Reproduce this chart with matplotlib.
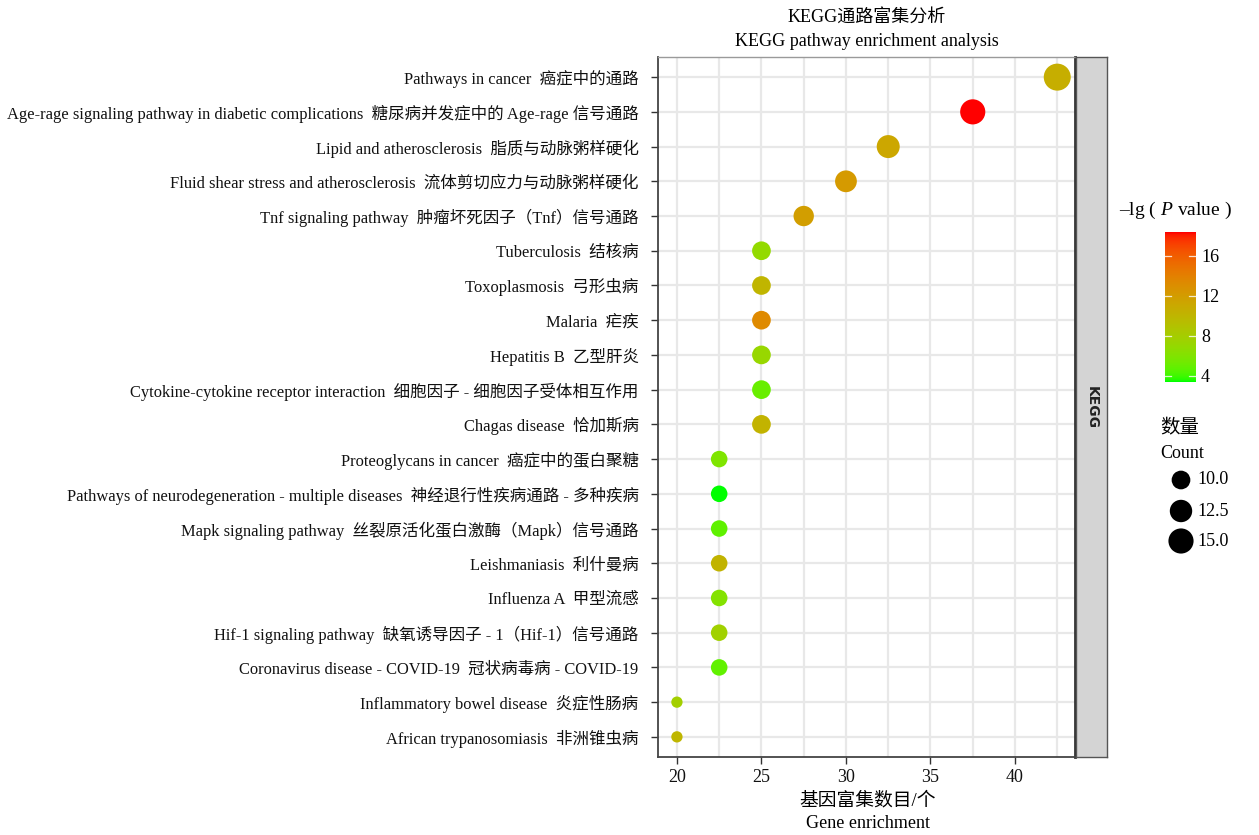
import numpy as np
import matplotlib
matplotlib.use("Agg")
import matplotlib.pyplot as plt
from matplotlib.colors import ListedColormap, Normalize

plt.rcParams['font.family'] = ['Liberation Serif', 'Noto Sans CJK SC']
plt.rcParams['mathtext.fontset'] = 'custom'
plt.rcParams['mathtext.rm'] = 'Liberation Serif'
plt.rcParams['mathtext.it'] = 'Liberation Serif:italic'

# ---- data -----------------------------------------------------------------
pathways = [
    "Pathways in cancer  癌症中的通路",
    "Age-rage signaling pathway in diabetic complications  糖尿病并发症中的 Age-rage 信号通路",
    "Lipid and atherosclerosis  脂质与动脉粥样硬化",
    "Fluid shear stress and atherosclerosis  流体剪切应力与动脉粥样硬化",
    "Tnf signaling pathway  肿瘤坏死因子（Tnf）信号通路",
    "Tuberculosis  结核病",
    "Toxoplasmosis  弓形虫病",
    "Malaria  疟疾",
    "Hepatitis B  乙型肝炎",
    "Cytokine-cytokine receptor interaction  细胞因子 - 细胞因子受体相互作用",
    "Chagas disease  恰加斯病",
    "Proteoglycans in cancer  癌症中的蛋白聚糖",
    "Pathways of neurodegeneration - multiple diseases  神经退行性疾病通路 - 多种疾病",
    "Mapk signaling pathway  丝裂原活化蛋白激酶（Mapk）信号通路",
    "Leishmaniasis  利什曼病",
    "Influenza A  甲型流感",
    "Hif-1 signaling pathway  缺氧诱导因子 - 1（Hif-1）信号通路",
    "Coronavirus disease - COVID-19  冠状病毒病 - COVID-19",
    "Inflammatory bowel disease  炎症性肠病",
    "African trypanosomiasis  非洲锥虫病",
]
gene_enrichment = [42.5, 37.5, 32.5, 30.0, 27.5,
                   25.0, 25.0, 25.0, 25.0, 25.0, 25.0,
                   22.5, 22.5, 22.5, 22.5, 22.5, 22.5, 22.5,
                   20.0, 20.0]
counts = [17, 15, 13, 12, 11,
          10, 10, 10, 10, 10, 10,
          9, 9, 9, 9, 9, 9, 9,
          8, 8]
neg_log_p = [10.7, 18.4, 11.2, 12.2, 11.9,
             6.9, 10.1, 13.4, 7.2, 5.0, 10.3,
             5.9, 3.4, 4.7, 10.2, 6.1, 7.7, 4.8,
             7.9, 10.0]
x_ticks = [20, 25, 30, 35, 40]
color_ticks = [4, 8, 12, 16]
size_breaks = [10.0, 12.5, 15.0]


# ---- green -> red gradient interpolated in CIE Lab -------------------------
def _srgb_to_lab(rgb):
    rgb = np.asarray(rgb, float)
    lin = np.where(rgb <= 0.04045, rgb / 12.92, ((rgb + 0.055) / 1.055) ** 2.4)
    m = np.array([[0.4124564, 0.3575761, 0.1804375],
                  [0.2126729, 0.7151522, 0.0721750],
                  [0.0193339, 0.1191920, 0.9503041]])
    xyz = lin @ m.T / np.array([0.95047, 1.0, 1.08883])
    f = np.where(xyz > 0.008856, np.cbrt(xyz), 7.787 * xyz + 16 / 116)
    L = 116 * f[..., 1] - 16
    a = 500 * (f[..., 0] - f[..., 1])
    b = 200 * (f[..., 1] - f[..., 2])
    return np.stack([L, a, b], -1)


def _lab_to_srgb(lab):
    lab = np.asarray(lab, float)
    fy_ = (lab[..., 0] + 16) / 116
    fx_ = fy_ + lab[..., 1] / 500
    fz_ = fy_ - lab[..., 2] / 200
    f = np.stack([fx_, fy_, fz_], -1)
    xyz = np.where(f ** 3 > 0.008856, f ** 3, (f - 16 / 116) / 7.787)
    xyz = xyz * np.array([0.95047, 1.0, 1.08883])
    minv = np.array([[3.2404542, -1.5371385, -0.4985314],
                     [-0.9692660, 1.8760108, 0.0415560],
                     [0.0556434, -0.2040259, 1.0572252]])
    lin = np.clip(xyz @ minv.T, 0, 1)
    rgb = np.where(lin <= 0.0031308, 12.92 * lin, 1.055 * lin ** (1 / 2.4) - 0.055)
    return np.clip(rgb, 0, 1)


lab_lo = _srgb_to_lab([0.0, 1.0, 0.0])
lab_hi = _srgb_to_lab([1.0, 0.0, 0.0])
t = np.linspace(0, 1, 256)[:, None]
cmap = ListedColormap(_lab_to_srgb(lab_lo * (1 - t) + lab_hi * t))
norm = Normalize(vmin=min(neg_log_p), vmax=max(neg_log_p))

# point diameter (px) follows an area-style scale over the count range
c_min, c_max = min(counts), max(counts)


def marker_area(c):
    d_px = 11.3 + 15.7 * np.sqrt((np.asarray(c, float) - c_min) / (c_max - c_min))
    return (d_px * 0.72) ** 2


# ---- figure ---------------------------------------------------------------
W, H = 1259, 835
fig = plt.figure(figsize=(W / 100, H / 100), dpi=100)


def fx(px):
    return px / W


def fy(py):
    return 1 - py / H


p_left, p_right, p_top, p_bot = 658, 1075, 57, 757
ax = fig.add_axes([fx(p_left), fy(p_bot), fx(p_right - p_left), (p_bot - p_top) / H])

n = len(pathways)
ypos = np.arange(n)
ax.set_xlim(18.88, 43.55)
ax.set_ylim(n - 1 + 0.58, -0.58)

# grid
grid_c = '#e8e8e8'
for xv in np.arange(20, 43.6, 2.5):
    ax.axvline(xv, color=grid_c, lw=1.6, zorder=0)
for yv in ypos:
    ax.axhline(yv, color=grid_c, lw=1.6, zorder=0)

ax.scatter(gene_enrichment, ypos, s=marker_area(counts), c=neg_log_p,
           cmap=cmap, norm=norm, edgecolors='none', zorder=3)

ax.set_xticks(x_ticks)
ax.set_xticklabels([str(v) for v in x_ticks], fontsize=13)
ax.set_yticks(ypos)
ax.set_yticklabels(pathways, fontsize=11.9)
ax.tick_params(axis='both', length=5, width=1.0, color='#333333', labelcolor='#111111')
ax.tick_params(axis='x', pad=4)
ax.tick_params(axis='y', pad=9)

for side in ['top', 'right']:
    ax.spines[side].set_color('#9a9a9a')
    ax.spines[side].set_linewidth(1.0)
for side in ['left', 'bottom']:
    ax.spines[side].set_color('#444444')
    ax.spines[side].set_linewidth(1.3)
ax.spines['right'].set_color('#333333')
ax.spines['right'].set_linewidth(2.0)

# facet strip
sax = fig.add_axes([fx(p_right + 1), fy(p_bot), fx(1107 - p_right - 1), (p_bot - p_top) / H])
sax.set_facecolor('#d4d4d4')
sax.set_xticks([])
sax.set_yticks([])
for sp in sax.spines.values():
    sp.set_color('#555555')
    sp.set_linewidth(1.0)
sax.text(0.5, 0.5, 'KEGG', rotation=270, ha='center', va='center', fontweight='bold',
         fontsize=10, color='#222222', family='DejaVu Sans', transform=sax.transAxes)

# titles
cx = (p_left + p_right) / 2 / W
fig.text(cx, fy(17), 'KEGG通路富集分析', ha='center', va='center', fontsize=13)
fig.text(cx, fy(41), 'KEGG pathway enrichment analysis', ha='center', va='center', fontsize=13)
fig.text(cx + 0.001, fy(801), '基因富集数目/个', ha='center', va='center', fontsize=13.5)
fig.text(cx + 0.001, fy(824), 'Gene enrichment', ha='center', va='center', fontsize=13)

# colour legend
cax = fig.add_axes([fx(1165), fy(381.7), fx(30.5), 150 / H])
grad = np.linspace(norm.vmin, norm.vmax, 300)[:, None]
cax.imshow(grad, aspect='auto', origin='lower', cmap=cmap, norm=norm,
           extent=[0, 1, norm.vmin, norm.vmax])
cax.set_xlim(0, 1)
cax.set_ylim(norm.vmin, norm.vmax)
cax.set_xticks([])
cax.yaxis.tick_right()
cax.set_yticks(color_ticks)
cax.set_yticklabels([str(v) for v in color_ticks], fontsize=13)
cax.tick_params(axis='y', length=0, pad=4)
for sp in cax.spines.values():
    sp.set_visible(False)
for v in color_ticks:
    cax.plot([0, 0.2], [v, v], color='white', lw=0.9, alpha=0.8)
    cax.plot([0.8, 1], [v, v], color='white', lw=0.9, alpha=0.8)
fig.text(fx(1175), fy(210), r'–lg ( $\it{P}$ value )', ha='center', va='center', fontsize=14)

# size legend
fig.text(fx(1160), fy(428), '数量', ha='left', va='center', fontsize=14)
fig.text(fx(1160), fy(453), 'Count', ha='left', va='center', fontsize=13)
lax = fig.add_axes([0, 0, 1, 1], facecolor='none')
lax.set_xlim(0, W)
lax.set_ylim(H, 0)
lax.axis('off')
for yv, b in zip([480, 511, 541], size_breaks):
    lax.scatter([1181], [yv], s=marker_area(b), color='black', edgecolors='none')
    lax.text(1197, yv, f'{b:.1f}', ha='left', va='center', fontsize=13)

fig.savefig('out.png', dpi=100)
